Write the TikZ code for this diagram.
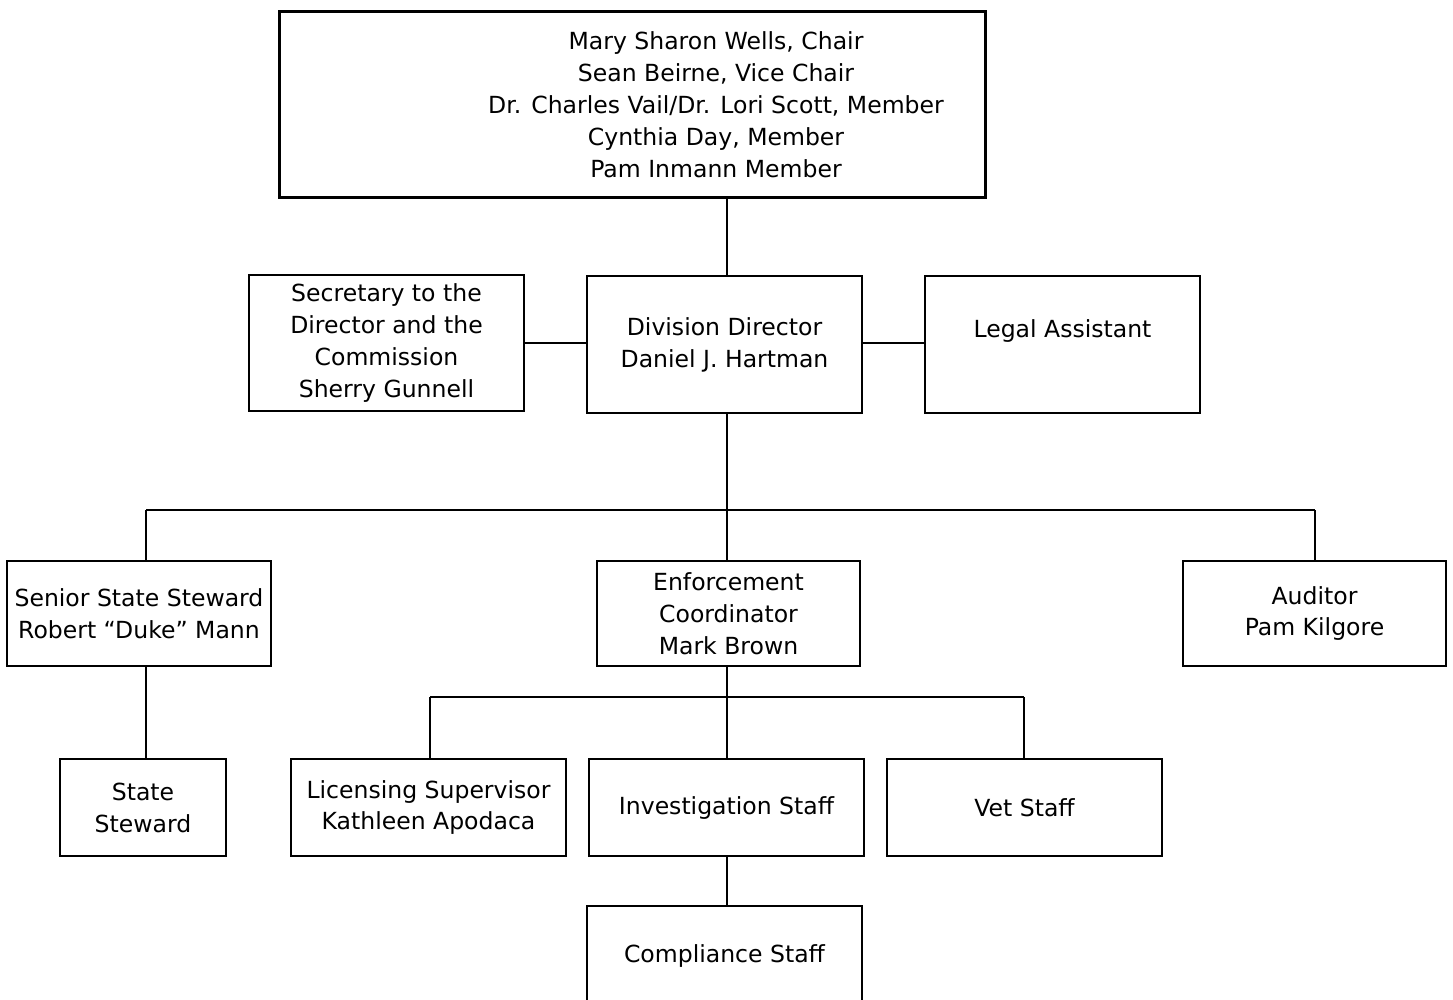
\documentclass[tikz,border=0pt]{standalone}
\usepackage{fontspec}
\setmainfont{DejaVu Sans}
\begin{document}
\begin{tikzpicture}
        [x=0.02cm, y=-0.02cm, line width=0.8pt,
        txt/.style={align=center, inner sep=0pt, font=\fontsize{13.4}{18.2}\selectfont},
        box/.style={txt, draw, line width=0.8pt, minimum width=5.5cm},
        boardBox/.style={box, line width=1.7pt, minimum width=14.14cm, minimum height=3.74cm}]
        \useasboundingbox (0,0) rectangle (1453,1000);
        \node[boardBox] (board) at (632.5,104.5) {};
        \node[txt] (boardText) at (716,104.5) {Mary Sharon Wells, Chair\\Sean Beirne, Vice Chair\\Dr. Charles Vail/Dr. Lori Scott, Member\\Cynthia Day, Member\\Pam Inmann Member};
        \node[box, minimum height=2.72cm] (secretary) at (386.5,343) {Secretary to the\\Director and the\\Commission\\Sherry Gunnell};
        \node[box, minimum height=2.74cm] (director) at (724.5,344.5) {Division Director\\Daniel J. Hartman};
        \node[box, minimum height=2.74cm] (legal) at (1062.5,344.5) {Legal Assistant\\~};
        \node[box, minimum width=5.28cm, minimum height=2.1cm] (senior) at (139,613.5) {Senior State Steward\\Robert “Duke” Mann};
        \node[box, minimum width=5.26cm, minimum height=2.1cm] (enforce) at (728.5,613.5) {Enforcement\\Coordinator\\Mark Brown};
        \node[box, minimum width=5.26cm, minimum height=2.1cm] (auditor) at (1314.5,613.5) {Auditor\\Pam Kilgore};
        \node[box, minimum width=3.32cm, minimum height=1.94cm] (state) at (143,807.5) {State\\Steward};
        \node[box, minimum height=1.94cm] (licensing) at (428.5,807.5) {Licensing Supervisor\\Kathleen Apodaca};
        \node[box, minimum height=1.94cm] (invest) at (726.5,807.5) {Investigation Staff};
        \node[box, minimum height=1.94cm] (vet) at (1024.5,807.5) {Vet Staff};
        \node[box, minimum height=2cm] (compliance) at (724.5,956) {Compliance Staff};

        \coordinate (hubA) at (727,510);
        \coordinate (hubAL) at (146,510);
        \coordinate (hubAR) at (1315,510);
        \coordinate (hubB) at (727,697);
        \coordinate (hubBL) at (430,697);
        \coordinate (hubBR) at (1024,697);

        \draw (hubA |- director.north) -- (hubA |- board.south);
        \draw (secretary.east) -- (secretary.east -| director.west);
        \draw (director.east |- secretary.east) -- (legal.west |- secretary.east);
        \draw (hubA |- director.south) -- (hubA);
        \draw (hubAL) -- (hubAR);
        \draw (hubAL) -- (hubAL |- senior.north);
        \draw (hubA) -- (hubA |- enforce.north);
        \draw (hubAR) -- (hubAR |- auditor.north);
        \draw (hubAL |- senior.south) -- (hubAL |- state.north);
        \draw (hubB |- enforce.south) -- (hubB);
        \draw (hubBL) -- (hubBR);
        \draw (hubBL) -- (hubBL |- licensing.north);
        \draw (hubB) -- (hubB |- invest.north);
        \draw (hubBR) -- (hubBR |- vet.north);
        \draw (hubB |- invest.south) -- (hubB |- compliance.north);
\end{tikzpicture}
\end{document}
